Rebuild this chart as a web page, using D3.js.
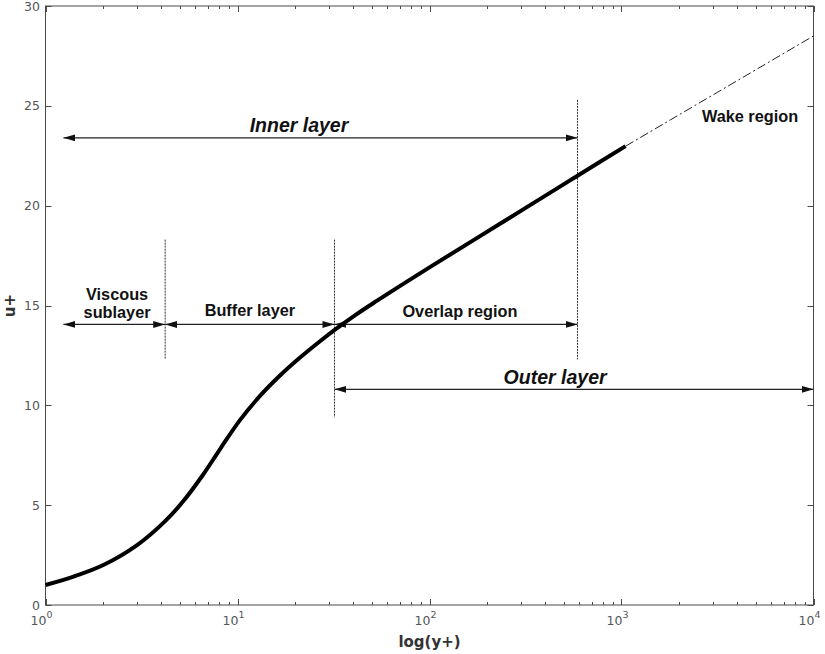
<!DOCTYPE html>
<html>
<head>
<meta charset="utf-8">
<script src="https://cdn.jsdelivr.net/npm/d3@7"></script>
<style>
  html, body { margin: 0; padding: 0; background: #fff; }
  svg { display: block; }
</style>
</head>
<body>
<svg id="chart" width="825" height="654"></svg>
<script>
// Mean velocity profile of a turbulent boundary layer (u+ against y+)
const yPlus = [1, 1.4, 2, 3, 4.2, 5.2, 6.6, 8.1, 10.3, 13.1, 16.6, 21.1, 26.9, 32.2, 41.8, 53.1, 70, 100, 168, 344, 590, 1050];
const uPlus = [1.0, 1.42, 2.0, 3.0, 4.2, 5.18, 6.51, 7.8, 9.26, 10.47, 11.48, 12.38, 13.21, 13.79, 14.57, 15.23, 15.97, 16.91, 18.25, 20.1, 21.5, 22.98];

// Extension through the wake region
const wakeYPlus = [1050, 10000];
const wakeUPlus = [22.98, 28.5];

// Region boundaries (y+) and the vertical extent of each marker line (u+)
const boundaryYPlus = [4.2, 32, 590];
const boundaryLow = [12.3, 9.4, 12.3];
const boundaryHigh = [18.3, 18.3, 25.3];

// Region spans
const regionNames = ["Inner layer", "Viscous sublayer", "Buffer layer", "Overlap region", "Outer layer"];
const regionStart = [1.24, 1.24, 4.2, 32, 32];
const regionEnd = [590, 4.2, 32, 590, 10000];
const regionU = [23.4, 14.05, 14.05, 14.05, 10.8];

// Tick values
const xTicks = [1, 10, 100, 1000, 10000];
const yTicks = [0, 5, 10, 15, 20, 25, 30];

(function draw() {
  const svg = d3.select("#chart");
  const plotLeft = 45.5, plotRight = 813.5, plotTop = 6, plotBottom = 605;

  const x = d3.scaleLog().domain([1, 10000]).range([plotLeft, plotRight]);
  const y = d3.scaleLinear().domain([0, 30]).range([plotBottom, plotTop]);

  const axisColor = "#4a4a4a";
  const tickFont = "'DejaVu Sans', sans-serif";

  // Frame
  svg.append("rect")
    .attr("x", plotLeft).attr("y", plotTop)
    .attr("width", plotRight - plotLeft).attr("height", plotBottom - plotTop)
    .attr("fill", "none").attr("stroke", axisColor).attr("stroke-width", 1);

  // Minor + major ticks along the log axis (bottom and top, inward)
  const minorX = [];
  for (let d = 1; d < 10000; d *= 10) for (let k = 2; k <= 9; k++) minorX.push(d * k);
  const ticksG = svg.append("g").attr("stroke", axisColor).attr("stroke-width", 1);
  minorX.forEach(v => {
    const px = Math.round(x(v)) + 0.5;
    ticksG.append("line").attr("x1", px).attr("x2", px).attr("y1", plotBottom).attr("y2", plotBottom - 3);
    ticksG.append("line").attr("x1", px).attr("x2", px).attr("y1", plotTop).attr("y2", plotTop + 3);
  });
  xTicks.forEach(v => {
    const px = Math.round(x(v)) + 0.5;
    ticksG.append("line").attr("x1", px).attr("x2", px).attr("y1", plotBottom).attr("y2", plotBottom - 6);
    ticksG.append("line").attr("x1", px).attr("x2", px).attr("y1", plotTop).attr("y2", plotTop + 6);
  });
  yTicks.forEach(v => {
    const py = Math.round(y(v)) + 0.5;
    ticksG.append("line").attr("x1", plotLeft).attr("x2", plotLeft + 6).attr("y1", py).attr("y2", py);
    ticksG.append("line").attr("x1", plotRight).attr("x2", plotRight - 6).attr("y1", py).attr("y2", py);
  });

  // X tick labels as powers of ten
  xTicks.forEach(v => {
    const t = svg.append("text")
      .attr("x", x(v) - 4).attr("y", 625)
      .attr("text-anchor", "middle")
      .attr("font-family", tickFont).attr("font-size", 12.5)
      .attr("fill", "#555");
    t.append("tspan").text("10");
    t.append("tspan").attr("dy", -7).attr("font-size", 9.5).text(Math.round(Math.log10(v)));
  });

  // Y tick labels
  yTicks.forEach(v => {
    svg.append("text")
      .attr("x", 40).attr("y", y(v) + 4.5)
      .attr("text-anchor", "end")
      .attr("font-family", tickFont).attr("font-size", 12.5)
      .attr("fill", "#555")
      .text(v);
  });

  // Axis titles
  svg.append("text")
    .attr("x", (plotLeft + plotRight) / 2).attr("y", 647)
    .attr("text-anchor", "middle")
    .attr("font-family", tickFont).attr("font-weight", "bold").attr("font-size", 15)
    .attr("fill", "#333")
    .text("log(y+)");
  svg.append("text")
    .attr("transform", `translate(15,${(plotTop + plotBottom) / 2}) rotate(-90)`)
    .attr("text-anchor", "middle")
    .attr("font-family", tickFont).attr("font-weight", "bold").attr("font-size", 15)
    .attr("fill", "#333")
    .text("u+");

  // Arrow heads
  const defs = svg.append("defs");
  function head(id, orient) {
    defs.append("marker")
      .attr("id", id)
      .attr("viewBox", "0 0 12 8")
      .attr("refX", 12).attr("refY", 4)
      .attr("markerWidth", 12).attr("markerHeight", 8)
      .attr("markerUnits", "userSpaceOnUse")
      .attr("orient", orient)
      .append("path").attr("d", "M0,0.5 L12,4 L0,7.5 Z").attr("fill", "#111");
  }
  head("arrowEnd", "auto");
  head("arrowStart", "auto-start-reverse");

  // Region boundary markers
  boundaryYPlus.forEach((b, i) => {
    svg.append("line")
      .attr("x1", x(b)).attr("x2", x(b))
      .attr("y1", y(boundaryHigh[i])).attr("y2", y(boundaryLow[i]))
      .attr("stroke", "#333").attr("stroke-width", 1)
      .attr("stroke-dasharray", "2,1");
  });

  // Region spans
  regionNames.forEach((n, i) => {
    svg.append("line")
      .attr("x1", x(regionStart[i])).attr("x2", x(regionEnd[i]))
      .attr("y1", y(regionU[i])).attr("y2", y(regionU[i]))
      .attr("stroke", "#222").attr("stroke-width", 1.3)
      .attr("marker-start", "url(#arrowStart)")
      .attr("marker-end", "url(#arrowEnd)");
  });

  // Wake region extension
  const line = d3.line().x(d => x(d[0])).y(d => y(d[1]));
  svg.append("path")
    .datum(d3.zip(wakeYPlus, wakeUPlus))
    .attr("d", line)
    .attr("fill", "none").attr("stroke", "#222").attr("stroke-width", 1)
    .attr("stroke-dasharray", "9,3,2,3");

  // Velocity profile
  svg.append("path")
    .datum(d3.zip(yPlus, uPlus))
    .attr("d", line.curve(d3.curveCatmullRom.alpha(0.5)))
    .attr("fill", "none").attr("stroke", "#000").attr("stroke-width", 4)
    .attr("stroke-linecap", "butt");

  // Region labels
  const labelFont = "'Liberation Sans', Arial, sans-serif";
  const labels = [
    { t: "Inner layer", xv: 20.9, uv: 23.7, size: 19.5, italic: true },
    { t: "Viscous", xv: 2.36, uv: 15.27, size: 16.3 },
    { t: "sublayer", xv: 2.36, uv: 14.36, size: 16.3 },
    { t: "Buffer layer", xv: 11.6, uv: 14.47, size: 16.3 },
    { t: "Overlap region", xv: 144, uv: 14.44, size: 16.3 },
    { t: "Outer layer", xv: 451, uv: 11.07, size: 19.5, italic: true },
    { t: "Wake region", xv: 4670, uv: 24.2, size: 16.3 }
  ];
  labels.forEach(l => {
    svg.append("text")
      .attr("x", x(l.xv)).attr("y", y(l.uv))
      .attr("text-anchor", "middle")
      .attr("font-family", labelFont).attr("font-weight", "bold")
      .attr("font-style", l.italic ? "italic" : "normal")
      .attr("font-size", l.size)
      .attr("fill", "#111")
      .text(l.t);
  });
})();
</script>
</body>
</html>
